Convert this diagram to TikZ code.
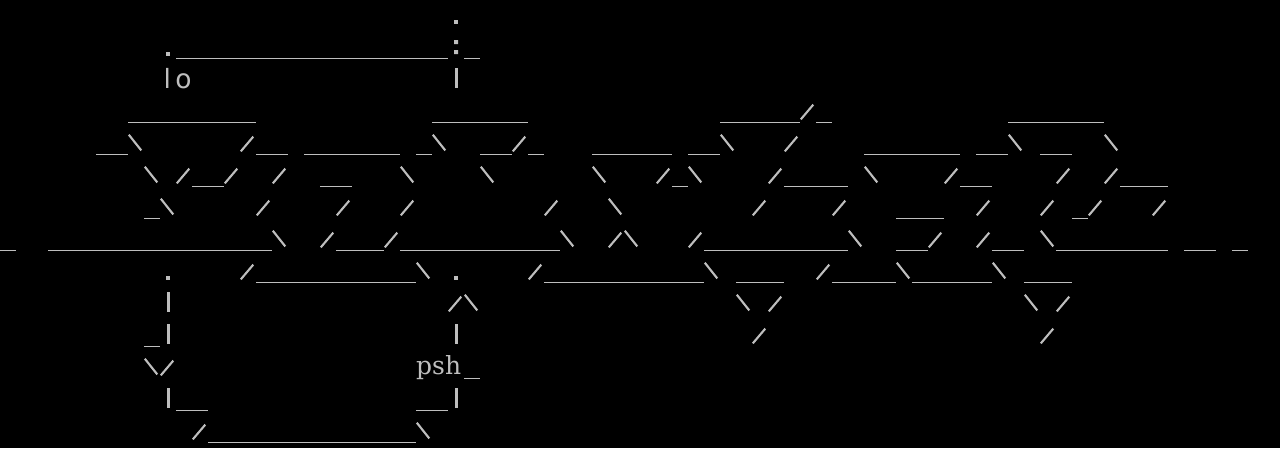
\documentclass[tikz,border=0pt]{standalone}
\usepackage{fontspec}
\newfontfamily\labelsans{DejaVu Sans}
\newfontfamily\labelserif{DejaVu Serif}
\usepackage{xcolor}
\definecolor{ink}{RGB}{190,190,190}

\begin{document}
\begin{tikzpicture}[x=16pt, y=-32pt,
  low/.style = {draw=ink, line width=1.6pt},
  fwd/.style = {draw=ink, line width=2.1pt},
  pipe/.style = {draw=ink, line width=3pt},
  speck/.style = {fill=ink},
  word/.style = {text=ink, inner sep=0pt, anchor=base west}]
\fill[black] (0,0) rectangle (80,14);
\useasboundingbox (0,0) rectangle (80,14);
% underscores: first col / last col / row
\foreach \a/\b/\r in {11/27/1, 29/29/1,
  8/15/3, 27/32/3, 45/49/3, 51/51/3, 63/68/3,
  6/7/4, 16/17/4, 19/24/4, 26/26/4, 30/31/4, 33/33/4, 37/41/4, 43/44/4, 54/59/4, 61/62/4, 65/66/4,
  12/13/5, 20/21/5, 42/42/5, 49/52/5, 60/61/5, 70/72/5,
  9/9/6, 56/58/6, 67/67/6,
  0/0/7, 3/16/7, 21/23/7, 25/34/7, 44/52/7, 56/57/7, 62/63/7, 66/72/7, 74/75/7, 77/77/7,
  16/25/8, 34/43/8, 46/48/8, 52/55/8, 57/61/8, 64/66/8,
  9/9/10, 29/29/11, 11/12/12, 26/27/12, 13/25/13}
  \draw[low] (\a,\r+0.834) -- (\b+1,\r+0.834);
% slashes
\foreach \c/\r in {50/3, 15/4, 32/4, 49/4, 11/5, 14/5, 17/5, 41/5, 48/5, 59/5, 66/5, 69/5,
  16/6, 21/6, 25/6, 34/6, 47/6, 52/6, 61/6, 65/6, 68/6, 72/6, 20/7, 24/7, 38/7, 43/7, 58/7, 61/7,
  15/8, 33/8, 51/8, 28/9, 48/9, 66/9, 47/10, 65/10, 10/11, 12/13}
  \draw[fwd] (\c+0.05,\r+0.73) -- (\c+0.83,\r+0.27);
% backslashes
\foreach \c/\r in {8/4, 27/4, 45/4, 63/4, 69/4, 9/5, 25/5, 30/5, 37/5, 43/5, 54/5, 10/6, 38/6,
  17/7, 35/7, 39/7, 53/7, 65/7, 26/8, 44/8, 56/8, 62/8, 29/9, 46/9, 64/9, 9/11, 26/13}
  \draw[fwd] (\c+0.05,\r+0.21) -- (\c+0.83,\r+0.70);
% bars
\foreach \c/\r in {28/2, 10/9, 10/10, 28/10, 10/12, 28/12}
  \draw[pipe] (\c+0.5,\r+0.135) -- (\c+0.5,\r+0.76);
% dots and colon
\foreach \c/\r in {28/0, 10/1, 10/8, 28/8}
  \fill[speck] (\c+0.375,\r+0.64) rectangle (\c+0.625,\r+0.75);
\fill[speck] (28.375,1.25) rectangle (28.625,1.375) (28.375,1.5625) rectangle (28.625,1.6875);
\node[word, font=\labelsans\fontsize{26.5}{30}\selectfont] (lo) at (10.22,2.75) {l\kern4.4pt o};
\node[word, font=\labelserif\fontsize{25}{30}\selectfont] (psh) at (26,11.69) {psh};
\end{tikzpicture}
\end{document}
